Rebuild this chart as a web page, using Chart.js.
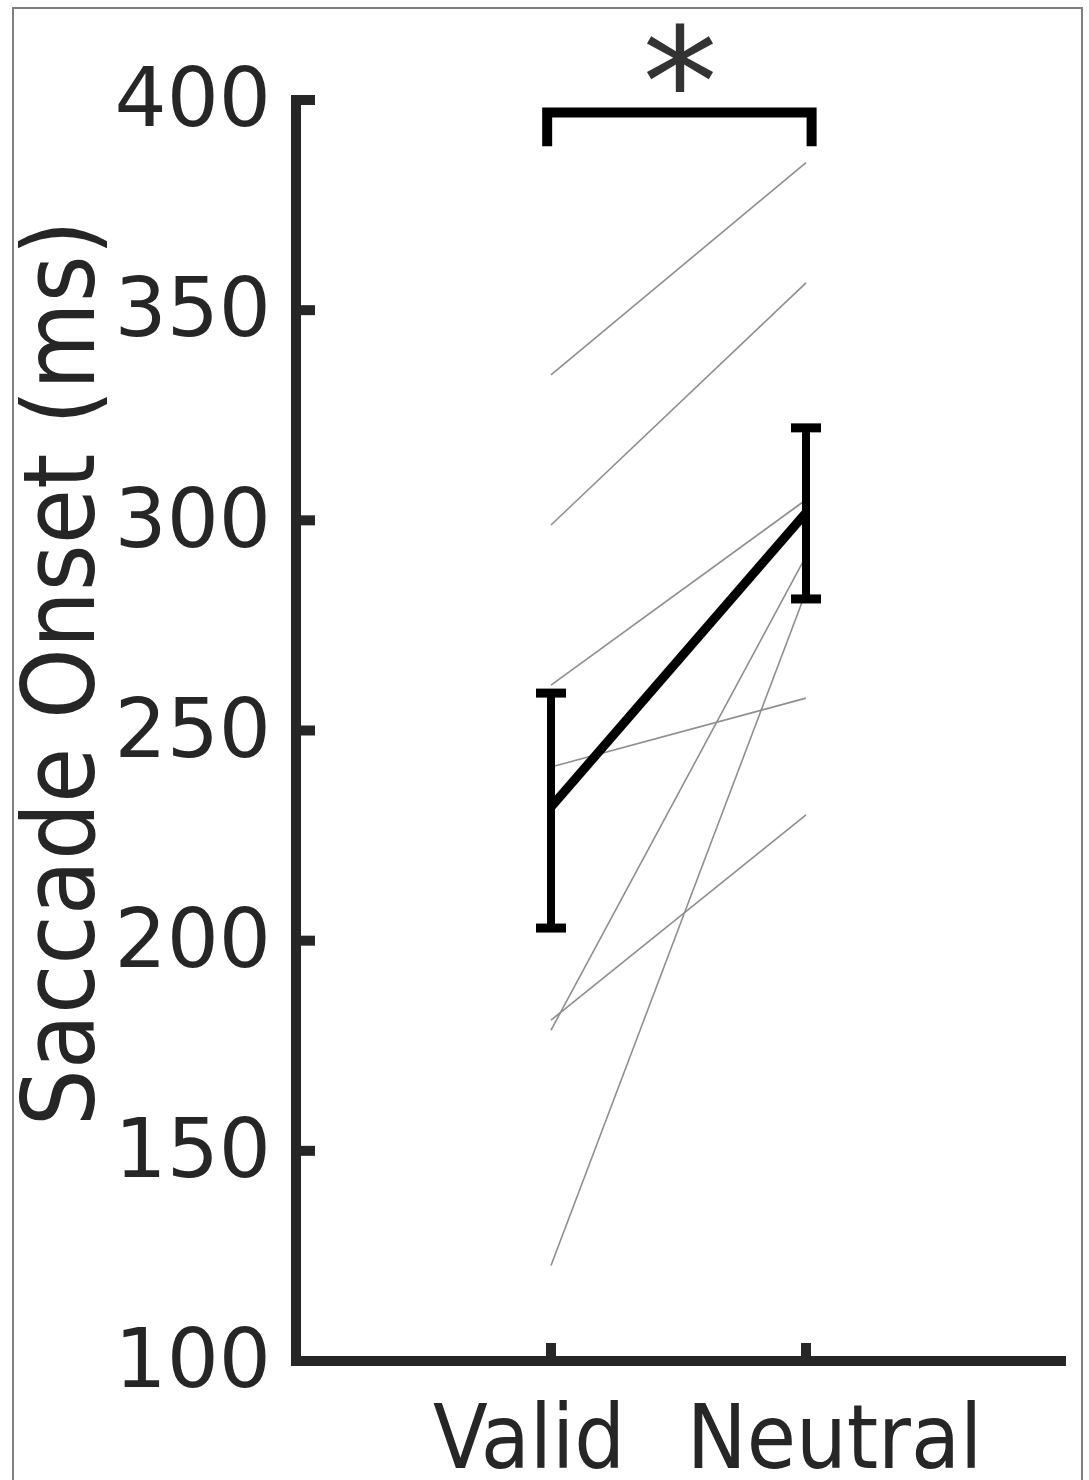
<!DOCTYPE html>
<html><head><meta charset="utf-8">
<script src="https://cdn.jsdelivr.net/npm/chart.js@4.4.1/dist/chart.umd.min.js"></script>
<style>
html,body{margin:0;padding:0;background:#fff;overflow:hidden;width:1089px;height:1480px;}
#frame{position:absolute;left:12px;top:7px;width:1067px;height:1500px;border:2px solid #7f7f7f;}
#wrap{position:absolute;left:0;top:0;width:1089px;height:1480px;}
</style></head><body>
<div id="frame"></div>
<div id="wrap"><canvas id="c"></canvas></div>
<script>
// ---- data ----
const categories = ['Valid', 'Neutral'];
const subjectValid   = [334.6, 298.9, 260.8, 241.3, 181.1, 178.7, 122.7];
const subjectNeutral = [385.1, 356.5, 304.9, 257.7, 229.9, 291.5, 283.0];
const meanValues = [231.8, 301.8];
const errLow  = [203.0, 281.3];
const errHigh = [258.9, 322.0];
const yTicks = [100, 150, 200, 250, 300, 350, 400];
const yTitle = 'Saccade Onset (ms)';
const sigLevel = 397;      // bracket height
const sigLegEnd = 389;     // bracket leg bottom
const sigMark = '*';

// ---- styles ----
const COND = "'DejaVu Sans Condensed', 'DejaVu Sans', sans-serif";
const NORM = "'DejaVu Sans', sans-serif";
const AXIS = '#262626';
const labelShift = [-0.086, 0.112];

const datasets = [{
  label: 'Mean',
  data: categories.map((c, i) => ({x: i + 1, y: meanValues[i]})),
  borderColor: '#000', borderWidth: 9, pointRadius: 0, borderCapStyle: 'butt', order: 0
}];
subjectValid.forEach((v, i) => {
  datasets.push({
    label: 'S' + (i + 1),
    data: [{x: 1, y: v}, {x: 2, y: subjectNeutral[i]}],
    borderColor: '#8e8e8e', borderWidth: 1.6, pointRadius: 0, order: 1
  });
});

const decor = {
  id: 'decor',
  afterDatasetsDraw(chart) {
    const {ctx, scales: {x, y}} = chart;
    ctx.save();
    ctx.strokeStyle = '#000';
    ctx.lineCap = 'butt';
    // error bars
    categories.forEach((c, i) => {
      const px = x.getPixelForValue(i + 1);
      const yt = y.getPixelForValue(errHigh[i]);
      const yb = y.getPixelForValue(errLow[i]);
      ctx.lineWidth = 8;
      ctx.beginPath(); ctx.moveTo(px, yt); ctx.lineTo(px, yb); ctx.stroke();
      ctx.lineWidth = 9;
      ctx.beginPath(); ctx.moveTo(px - 15, yt); ctx.lineTo(px + 15, yt); ctx.stroke();
      ctx.beginPath(); ctx.moveTo(px - 15, yb); ctx.lineTo(px + 15, yb); ctx.stroke();
    });
    // significance bracket
    const x1 = x.getPixelForValue(0.985), x2 = x.getPixelForValue(2.022);
    const yl = y.getPixelForValue(sigLevel), ye = y.getPixelForValue(sigLegEnd);
    ctx.lineWidth = 10; ctx.lineJoin = 'miter';
    ctx.beginPath(); ctx.moveTo(x1, ye); ctx.lineTo(x1, yl); ctx.lineTo(x2, yl); ctx.lineTo(x2, ye); ctx.stroke();
    // asterisk
    ctx.fillStyle = '#333';
    ctx.font = '150px ' + NORM;
    ctx.textAlign = 'center';
    ctx.textBaseline = 'alphabetic';
    const m = ctx.measureText(sigMark);
    const cx = x.getPixelForValue(1.506), cy = y.getPixelForValue(410.1);
    const off = (m.actualBoundingBoxAscent - m.actualBoundingBoxDescent) / 2;
    ctx.fillText(sigMark, cx, cy + off);
    ctx.restore();
  },
  afterDraw(chart) {
    const {ctx, scales: {x, y}, chartArea} = chart;
    ctx.save();
    ctx.strokeStyle = AXIS; ctx.lineWidth = 10; ctx.lineCap = 'butt';
    yTicks.forEach(v => {
      if (v === y.min) return;
      const py = y.getPixelForValue(v);
      ctx.beginPath(); ctx.moveTo(chartArea.left, py); ctx.lineTo(chartArea.left + 19, py); ctx.stroke();
    });
    categories.forEach((c, i) => {
      const px = x.getPixelForValue(i + 1);
      ctx.beginPath(); ctx.moveTo(px, chartArea.bottom); ctx.lineTo(px, chartArea.bottom - 18); ctx.stroke();
    });
    ctx.restore();
  }
};

new Chart(document.getElementById('c'), {
  type: 'line',
  data: {datasets},
  options: {
    responsive: true, maintainAspectRatio: false, animation: false,
    layout: {padding: {top: 100, right: 28, left: 0, bottom: 0}},
    plugins: {legend: {display: false}, tooltip: {enabled: false}},
    scales: {
      x: {
        type: 'linear', min: 0, max: 3,
        afterBuildTicks: s => { s.ticks = categories.map((c, i) => ({value: i + 1 + labelShift[i]})); },
        ticks: {callback: (v, i) => categories[i], font: {family: COND, size: 89}, color: AXIS, padding: 30, maxRotation: 0, autoSkip: false},
        grid: {display: false, drawTicks: false, lineWidth: 10},
        border: {display: true, width: 10, color: AXIS},
        afterFit: s => { s.height = 119; }
      },
      y: {
        type: 'linear', min: 100, max: 400,
        afterBuildTicks: s => { s.ticks = yTicks.map(v => ({value: v})); },
        ticks: {callback: v => String(v), font: {family: NORM, size: 82}, color: AXIS, padding: 25, labelOffset: 5},
        grid: {display: false, drawTicks: false, lineWidth: 10},
        border: {display: true, width: 10, color: AXIS},
        title: {display: true, text: '\u00a0\u00a0\u00a0\u00a0' + yTitle, font: {family: COND, size: 100}, color: AXIS, padding: {top: 8, bottom: 0}},
        afterFit: s => { s.width = 296; }
      }
    }
  },
  plugins: [decor]
});
</script>
</body></html>
